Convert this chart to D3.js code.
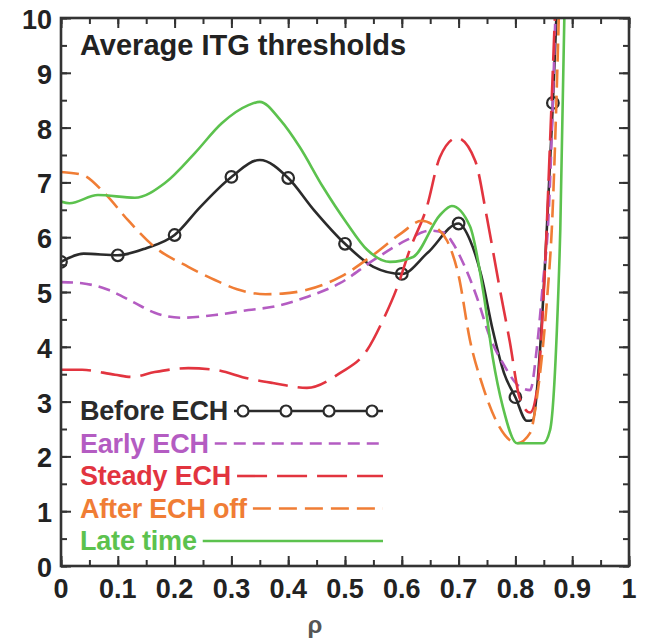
<!DOCTYPE html>
<html>
<head>
<meta charset="utf-8">
<script src="https://cdn.jsdelivr.net/npm/d3@7"></script>
<style>
body{margin:0;background:#fff;}
svg{display:block;}
text{font-family:"Liberation Sans",Arial,sans-serif;font-weight:bold;}
</style>
</head>
<body>
<div id="chart"></div>
<script>
// values: [rho, threshold]
var xTicks=[0,0.1,0.2,0.3,0.4,0.5,0.6,0.7,0.8,0.9,1];
var yTicks=[0,1,2,3,4,5,6,7,8,9,10];
var seriesNames=["Before ECH","Early ECH","Steady ECH","After ECH off","Late time"];
var seriesColors=["#2b2b2b","#b45cc2","#e2343f","#f07d35","#5cc24e"];

var beforeECH=[[0,5.55],[0.04,5.7],[0.1,5.67],[0.15,5.8],[0.2,6.04],[0.245,6.55],[0.3,7.1],[0.35,7.41],[0.4,7.08],[0.445,6.5],[0.5,5.88],[0.55,5.46],[0.6,5.33],[0.645,5.71],[0.7,6.25],[0.72,5.95],[0.74,5.3],[0.76,4.31],[0.78,3.52],[0.8,3.08],[0.82,2.65],[0.83,2.66],[0.845,4.2],[0.857,6.5],[0.866,8.45],[0.876,11]];
var beforeMarks=[[0,5.55],[0.1,5.67],[0.2,6.04],[0.3,7.1],[0.4,7.08],[0.5,5.88],[0.6,5.33],[0.7,6.25],[0.8,3.08],[0.866,8.45]];
var earlyECH=[[0,5.18],[0.037,5.16],[0.083,5.04],[0.13,4.8],[0.165,4.62],[0.213,4.53],[0.271,4.58],[0.33,4.67],[0.373,4.73],[0.433,4.91],[0.491,5.16],[0.55,5.58],[0.609,5.95],[0.65,6.12],[0.675,6.08],[0.69,5.89],[0.708,5.53],[0.732,4.91],[0.755,4.18],[0.778,3.7],[0.808,3.27],[0.826,3.21],[0.838,4.0],[0.849,5.22],[0.857,6.13],[0.873,11]];
var steadyECH=[[0,3.58],[0.037,3.58],[0.095,3.49],[0.125,3.45],[0.165,3.54],[0.224,3.61],[0.271,3.58],[0.33,3.42],[0.373,3.34],[0.433,3.25],[0.491,3.52],[0.539,3.94],[0.567,4.49],[0.592,5.09],[0.614,5.77],[0.644,6.55],[0.667,7.46],[0.697,7.81],[0.729,7.4],[0.75,6.35],[0.77,5.2],[0.79,4.1],[0.808,3.05],[0.826,2.8],[0.838,3.21],[0.85,5],[0.862,8],[0.873,11]];
var afterECHoff=[[0,7.19],[0.037,7.14],[0.077,6.8],[0.118,6.31],[0.165,5.82],[0.224,5.46],[0.271,5.22],[0.31,5.05],[0.36,4.96],[0.39,4.97],[0.433,5.04],[0.491,5.27],[0.55,5.68],[0.6,6.08],[0.635,6.3],[0.66,6.18],[0.68,5.93],[0.7,5.3],[0.72,4.12],[0.743,3.27],[0.768,2.61],[0.803,2.24],[0.826,2.43],[0.838,3.08],[0.856,4.91],[0.864,6.13],[0.879,11]];
var lateTime=[[0,6.65],[0.015,6.62],[0.065,6.77],[0.13,6.72],[0.183,6.99],[0.236,7.54],[0.283,8.08],[0.33,8.41],[0.35,8.47],[0.386,8.14],[0.42,7.65],[0.461,6.92],[0.503,6.26],[0.539,5.77],[0.579,5.55],[0.62,5.64],[0.667,6.4],[0.688,6.57],[0.72,6.2],[0.745,4.9],[0.76,3.81],[0.778,2.9],[0.803,2.24],[0.849,2.24],[0.861,2.48],[0.873,4.3],[0.879,6.13],[0.888,11]];

var allSeries=[beforeECH,earlyECH,steadyECH,afterECHoff,lateTime];
var dashes=[null,"12,7","30,10","18,8",null];

var W=646,H=639;
var m={left:61,right:17,top:18,bottom:73};
var svg=d3.select("#chart").append("svg").attr("width",W).attr("height",H);

var x=d3.scaleLinear().domain([0,1]).range([m.left,W-m.right]);
var y=d3.scaleLinear().domain([0,10]).range([H-m.bottom,m.top]);

svg.append("clipPath").attr("id","clip")
   .append("rect").attr("x",x(0)).attr("y",y(10)).attr("width",x(1)-x(0)).attr("height",y(0)-y(10));

var line=d3.line().x(function(d){return x(d[0]);}).y(function(d){return y(d[1]);}).curve(d3.curveMonotoneX);

var plot=svg.append("g").attr("clip-path","url(#clip)");
for(var i=0;i<allSeries.length;i++){
	var p=plot.append("path").datum(allSeries[i])
		.attr("d",line).attr("fill","none")
		.attr("stroke",seriesColors[i]).attr("stroke-width",2.6);
	if(dashes[i]) p.attr("stroke-dasharray",dashes[i]);
	if(i==0){
		plot.selectAll(".mark").data(beforeMarks).enter().append("circle")
			.attr("class","mark").attr("cx",function(d){return x(d[0]);}).attr("cy",function(d){return y(d[1]);})
			.attr("r",5.8).attr("fill","none").attr("stroke",seriesColors[0]).attr("stroke-width",2.2);
	}
}

// axes, ticks inward on all four sides
var axisColor="#333";
function styleAxis(g){
	g.select(".domain").remove();
	g.selectAll("line").attr("stroke",axisColor).attr("stroke-width",2);
}
var minorX=d3.range(0,1.0001,0.05), minorY=d3.range(0,10.001,0.5);
svg.append("g").attr("transform","translate(0,"+y(0)+")").call(d3.axisTop(x).tickValues(minorX).tickSize(6).tickFormat("")).call(styleAxis);
svg.append("g").attr("transform","translate(0,"+y(10)+")").call(d3.axisBottom(x).tickValues(minorX).tickSize(6).tickFormat("")).call(styleAxis);
svg.append("g").attr("transform","translate("+x(0)+",0)").call(d3.axisRight(y).tickValues(minorY).tickSize(6).tickFormat("")).call(styleAxis);
svg.append("g").attr("transform","translate("+x(1)+",0)").call(d3.axisLeft(y).tickValues(minorY).tickSize(6).tickFormat("")).call(styleAxis);
svg.append("g").attr("transform","translate(0,"+y(0)+")").call(d3.axisTop(x).tickValues(xTicks).tickSize(10).tickFormat("")).call(styleAxis);
svg.append("g").attr("transform","translate(0,"+y(10)+")").call(d3.axisBottom(x).tickValues(xTicks).tickSize(10).tickFormat("")).call(styleAxis);
svg.append("g").attr("transform","translate("+x(0)+",0)").call(d3.axisRight(y).tickValues(yTicks).tickSize(10).tickFormat("")).call(styleAxis);
svg.append("g").attr("transform","translate("+x(1)+",0)").call(d3.axisLeft(y).tickValues(yTicks).tickSize(10).tickFormat("")).call(styleAxis);

svg.append("g").selectAll("text").data(xTicks).enter().append("text")
	.attr("x",function(d){return x(d);}).attr("y",y(0)+32)
	.attr("text-anchor","middle").attr("font-size",27).attr("fill","#222")
	.text(function(d){return d3.format("~g")(d);});
svg.append("g").selectAll("text").data(yTicks).enter().append("text")
	.attr("x",x(0)-9).attr("y",function(d){return y(d)+11;})
	.attr("text-anchor","end").attr("font-size",27).attr("fill","#222")
	.text(function(d){return d;});

svg.append("rect").attr("x",x(0)).attr("y",y(10)).attr("width",x(1)-x(0)).attr("height",y(0)-y(10))
	.attr("fill","none").attr("stroke",axisColor).attr("stroke-width",2.6);

svg.append("text").attr("x",315).attr("y",633).attr("text-anchor","middle")
	.attr("font-size",24).attr("font-weight","normal").attr("fill","#555").text("ρ");

svg.append("text").attr("x",80).attr("y",55).attr("font-size",29).attr("fill","#222")
	.text("Average ITG thresholds");

// legend
var legend=svg.append("g");
var legendEnd=383;
for(var k=0;k<seriesNames.length;k++){
	var by=420+k*32.5;
	var t=legend.append("text").attr("x",80).attr("y",by).attr("font-size",27)
		.attr("letter-spacing",-0.2).attr("fill",seriesColors[k]).text(seriesNames[k]);
	var x0=80+t.node().getComputedTextLength()+6;
	var ly=by-9;
	var l=legend.append("line").attr("x1",x0).attr("x2",legendEnd).attr("y1",ly).attr("y2",ly)
		.attr("stroke",seriesColors[k]).attr("stroke-width",2.6);
	if(dashes[k]) l.attr("stroke-dasharray",dashes[k]);
	if(k==0){
		for(var c=0;c<4;c++){
			legend.append("circle").attr("cx",x0+9+c*43).attr("cy",ly).attr("r",5.5)
				.attr("fill","#fff").attr("stroke",seriesColors[0]).attr("stroke-width",2.2);
		}
	}
}
</script>
</body>
</html>
